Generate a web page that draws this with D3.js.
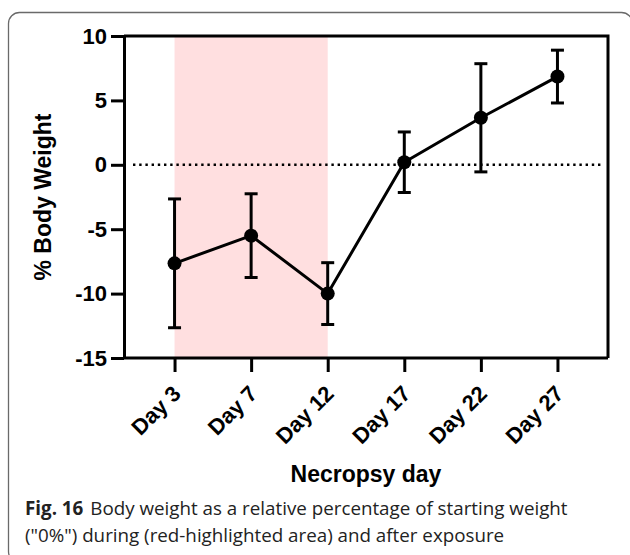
<!DOCTYPE html>
<html>
<head>
<meta charset="utf-8">
<script src="https://cdn.jsdelivr.net/npm/d3@7"></script>
<style>
  html, body { margin: 0; padding: 0; background: #fff; }
  svg { display: block; }
</style>
</head>
<body>
<svg id="chart" width="630" height="555"></svg>
<script>
// ---- data ----
const categories = ["Day 3", "Day 7", "Day 12", "Day 17", "Day 22", "Day 27"];
const meanValues = [-7.65, -5.5, -10.0, 0.2, 3.65, 6.85];
const errorValues = [5.0, 3.25, 2.4, 2.35, 4.2, 2.05];
const yTicks = [-15, -10, -5, 0, 5, 10];
const exposureRange = ["Day 3", "Day 12"];
const yTitle = "% Body Weight";
const xTitle = "Necropsy day";
const captionBold = "Fig. 16";
const captionLine1 = "Body weight as a relative percentage of starting weight";
const captionLine2 = "(\"0%\") during (red-highlighted area) and after exposure";

// ---- layout ----
const svg = d3.select("#chart");
const W = 630, H = 555;
const margin = { left: 124, right: 22, top: 36, bottom: 197 };
const pw = W - margin.left - margin.right;
const ph = H - margin.top - margin.bottom;
const bold = "'Liberation Sans', Arial, Helvetica, sans-serif";

// outer rounded frame
svg.append("rect")
  .attr("x", 8.5).attr("y", 12.5)
  .attr("width", 624).attr("height", 550)
  .attr("rx", 11).attr("ry", 11)
  .attr("fill", "none").attr("stroke", "#6a6a6a").attr("stroke-width", 1.3);

const g = svg.append("g").attr("transform", `translate(${margin.left},${margin.top})`);

const x = d3.scalePoint().domain(categories).range([0, pw]).padding(0.66);
const y = d3.scaleLinear().domain([-15, 10]).range([ph, 0]);

// highlighted exposure area
g.append("rect")
  .attr("x", x(exposureRange[0]))
  .attr("y", y(10))
  .attr("width", x(exposureRange[1]) - x(exposureRange[0]))
  .attr("height", y(-15) - y(10))
  .attr("fill", "#ffdfe0");

// dotted zero line
g.append("line")
  .attr("x1", 9).attr("x2", pw - 7)
  .attr("y1", y(0)).attr("y2", y(0))
  .attr("stroke", "#000").attr("stroke-width", 2.4)
  .attr("stroke-dasharray", "2.4,3.8");

// frame top & right
g.append("path")
  .attr("d", `M0,${y(10)}H${pw}V${y(-15)}`)
  .attr("fill", "none").attr("stroke", "#000").attr("stroke-width", 3);

// y axis
const yAxis = g.append("g")
  .call(d3.axisLeft(y).tickValues(yTicks).tickFormat(d => String(d))
    .tickSize(13).tickSizeOuter(0).tickPadding(4));
yAxis.select(".domain").attr("stroke-width", 3);
yAxis.selectAll(".tick line").attr("stroke-width", 3);
yAxis.selectAll(".tick text")
  .attr("font-family", bold).attr("font-weight", "bold")
  .attr("font-size", 22).attr("fill", "#000");

// x axis
const xAxis = g.append("g").attr("transform", `translate(0,${ph})`)
  .call(d3.axisBottom(x).tickSize(14).tickSizeOuter(0));
xAxis.select(".domain").attr("d", `M0,0H${pw}`).attr("stroke-width", 3);
xAxis.selectAll(".tick line").attr("stroke-width", 3);
xAxis.selectAll(".tick text")
  .attr("font-family", bold).attr("font-weight", "bold")
  .attr("font-size", 22).attr("fill", "#000")
  .attr("text-anchor", "end")
  .attr("x", 0).attr("y", 0).attr("dy", 0)
  .attr("transform", "translate(7,37) rotate(-45)");

// error bars
const capW = 6.5;
const eb = g.append("g").attr("stroke", "#000").attr("stroke-width", 3).attr("fill", "none");
categories.forEach((c, i) => {
  const cx = x(c);
  const top = y(meanValues[i] + errorValues[i]);
  const bot = y(meanValues[i] - errorValues[i]);
  eb.append("line").attr("x1", cx).attr("x2", cx).attr("y1", top).attr("y2", bot);
  eb.append("line").attr("x1", cx - capW).attr("x2", cx + capW).attr("y1", top).attr("y2", top);
  eb.append("line").attr("x1", cx - capW).attr("x2", cx + capW).attr("y1", bot).attr("y2", bot);
});

// line
const pts = categories.map((c, i) => [x(c), y(meanValues[i])]);
g.append("path")
  .attr("d", d3.line()(pts))
  .attr("fill", "none").attr("stroke", "#000").attr("stroke-width", 3).attr("stroke-linejoin", "round");

// markers
g.selectAll("circle.pt").data(pts).enter().append("circle")
  .attr("class", "pt")
  .attr("cx", d => d[0]).attr("cy", d => d[1]).attr("r", 7)
  .attr("fill", "#000");

// axis titles
svg.append("text")
  .attr("transform", `translate(51,${margin.top + ph / 2}) rotate(-90)`)
  .attr("text-anchor", "middle")
  .attr("font-family", bold).attr("font-weight", "bold").attr("font-size", 23)
  .text(yTitle);

svg.append("text")
  .attr("x", margin.left + pw / 2).attr("y", 482)
  .attr("text-anchor", "middle")
  .attr("font-family", bold).attr("font-weight", "bold").attr("font-size", 23)
  .text(xTitle);

// caption
const capFont = "'Open Sans', 'Noto Sans', sans-serif";
const capSize = 17;
const t1 = svg.append("text")
  .attr("x", 25).attr("y", 515)
  .attr("font-family", capFont).attr("font-size", capSize).attr("fill", "#222");
t1.append("tspan").attr("font-weight", "bold").text(captionBold);
t1.append("tspan").attr("dx", 7).text(captionLine1);
const t2 = svg.append("text")
  .attr("x", 25).attr("y", 542)
  .attr("font-family", capFont).attr("font-size", capSize).attr("fill", "#222")
  .text(captionLine2);
// fit caption line 1 to reference width
const target = 536;
const w1 = t1.node().getComputedTextLength();
const s = Math.min(1.2, target / w1);
t1.attr("font-size", capSize * s);
t2.attr("font-size", capSize * s);
</script>
</body>
</html>
